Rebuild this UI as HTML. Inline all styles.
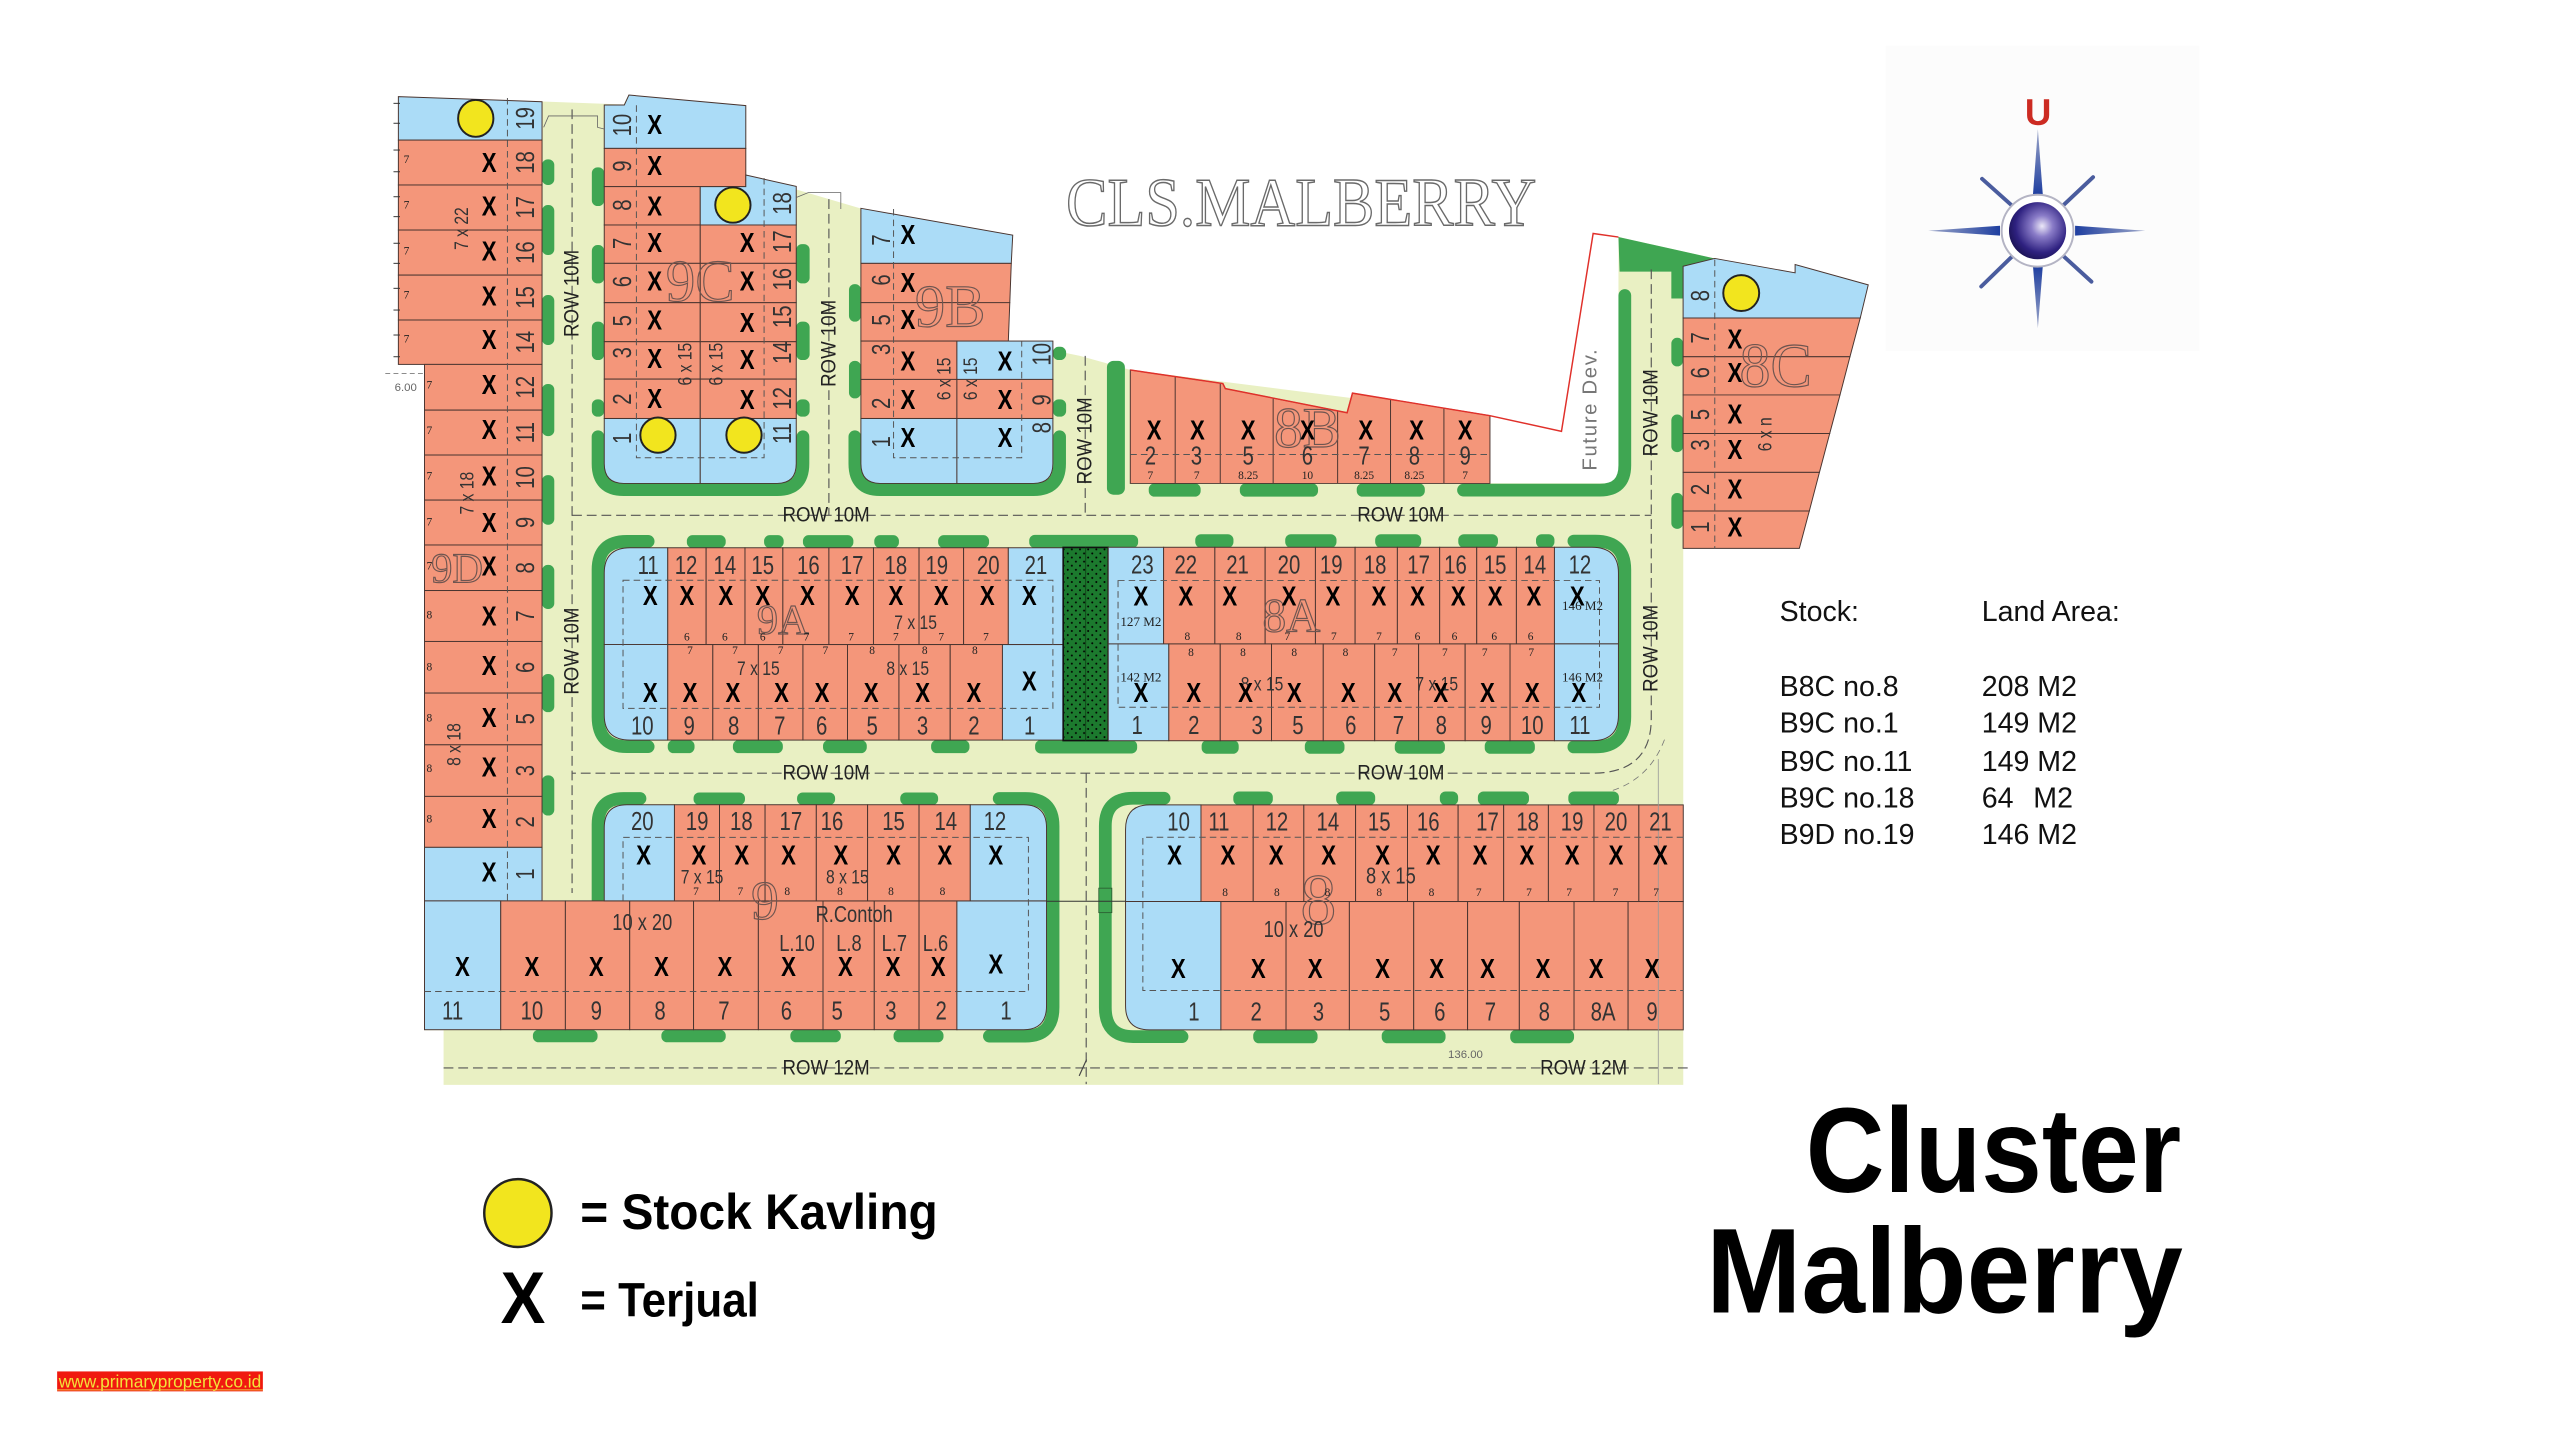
<!DOCTYPE html>
<html><head><meta charset="utf-8"><title>Cluster Malberry</title>
<style>
html,body{margin:0;padding:0;background:#fff;width:2560px;height:1440px;overflow:hidden}
svg{display:block}
.r{fill:#f4967a;stroke:#4a3530;stroke-width:.6}
.b{fill:#abdcf7;stroke:#4a3530;stroke-width:.6}
.g rect{fill:#3fa652}
.gs{fill:none;stroke:#3fa652;stroke-width:7.8;stroke-linecap:round}
.d{fill:none;stroke:#555;stroke-width:.6;stroke-dasharray:4 2.5}
.dl{fill:none;stroke:#555;stroke-width:.7;stroke-dasharray:6 3}
text{font-family:"Liberation Sans",sans-serif}
.n text,.nv text,.x text,.dm text,.dmv text,.rw text,.rwv text,.s text,.lb text{text-anchor:middle;dominant-baseline:central;transform-box:fill-box;transform-origin:center}
.n text{font-size:16px;fill:#333;transform:scaleX(.78)}
.nv text{font-size:16px;fill:#333;transform:rotate(-90deg) scaleX(.78)}
.x text{font-size:17px;font-weight:bold;fill:#000;transform:scaleX(.8)}
.s text{font-family:"Liberation Serif",serif;font-size:7px;fill:#222}
.dm text{font-size:12px;fill:#333;transform:scaleX(.8)}
.dmv text{font-size:12px;fill:#333;transform:rotate(-90deg) scaleX(.8)}
.lb text{font-family:"Liberation Serif",serif;fill:none;stroke:#6e5550;stroke-width:.7}
.rw text{font-size:13px;fill:#222;transform:scaleX(.88)}
.rwv text{font-size:13px;fill:#222;transform:rotate(-90deg) scaleX(.88)}
.tb{font-size:17.5px;fill:#111}
.ttl{font-family:"Liberation Serif",serif}
</style></head>
<body>
<svg width="2560" height="1440" viewBox="0 0 1568 882" xmlns="http://www.w3.org/2000/svg">
<defs>
<pattern id="dots" width="5" height="5" patternUnits="userSpaceOnUse"><rect width="5" height="5" fill="#1c7a2e"/><circle cx="1.5" cy="1.5" r=".6" fill="#000"/><circle cx="4" cy="4" r=".6" fill="#000"/></pattern>
<radialGradient id="sph" cx=".58" cy=".42" r=".62"><stop offset="0" stop-color="#ece8f8"/><stop offset=".3" stop-color="#8a7cc8"/><stop offset=".75" stop-color="#2e2180"/><stop offset="1" stop-color="#1b1355"/></radialGradient>
<linearGradient id="gv" x1="0" y1="0" x2="0" y2="1"><stop offset="0" stop-color="#9ca6c8"/><stop offset="1" stop-color="#1f3fa0"/></linearGradient>
<linearGradient id="gv2" x1="0" y1="1" x2="0" y2="0"><stop offset="0" stop-color="#9ca6c8"/><stop offset="1" stop-color="#1f3fa0"/></linearGradient>
<linearGradient id="gh" x1="0" y1="0" x2="1" y2="0"><stop offset="0" stop-color="#9ca6c8"/><stop offset="1" stop-color="#1f3fa0"/></linearGradient>
<linearGradient id="gh2" x1="1" y1="0" x2="0" y2="0"><stop offset="0" stop-color="#9ca6c8"/><stop offset="1" stop-color="#1f3fa0"/></linearGradient>
</defs>

<!-- road base -->
<polygon fill="#e9f0c3" points="244,59 382,64 385,58 457,65 457,107 527,127.6 620,144 617.6,209 661.5,218 692,226.5 912.6,254.6 912.6,296 991.3,296 991.3,145.2 1050.3,158.3 1050.3,163.1 1031,163.1 1031,664.5 271.7,664.5 271.7,631 260,631 260,223 244,223"/>

<!-- green bumps -->
<g class="g">
<rect x="332" y="97.6" width="7.5" height="15.7" rx="3.5"/><rect x="332" y="125.6" width="7.5" height="30.6" rx="3.5"/><rect x="332" y="180.7" width="7.5" height="30.6" rx="3.5"/><rect x="332" y="235.2" width="7.5" height="31.9" rx="3.5"/><rect x="332" y="291" width="7.5" height="30.4" rx="3.5"/><rect x="332" y="346" width="7.5" height="27" rx="3.5"/><rect x="332" y="412.8" width="7.5" height="23.4" rx="3.5"/><rect x="332" y="474.9" width="7.5" height="24.6" rx="3.5"/>
<rect x="362.5" y="102.5" width="7.6" height="23.7" rx="3.5"/><rect x="362.5" y="150.1" width="7.6" height="23.5" rx="3.5"/><rect x="362.5" y="197" width="7.6" height="23.5" rx="3.5"/><rect x="362.5" y="244.6" width="7.6" height="10.6" rx="3.5"/>
<rect x="487.7" y="149.5" width="8.2" height="24.1" rx="3.5"/><rect x="487.7" y="197" width="8.2" height="23.5" rx="3.5"/><rect x="487.7" y="244.6" width="8.2" height="10.6" rx="3.5"/>
<rect x="520" y="174" width="7.3" height="23" rx="3.5"/><rect x="520" y="221" width="7.3" height="23" rx="3.5"/>
<rect x="644.9" y="212.4" width="8.1" height="8.1" rx="3.5"/><rect x="644.9" y="244.6" width="8.1" height="10.6" rx="3.5"/>
<rect x="678" y="221" width="11" height="82" rx="4"/>
<rect x="703.6" y="296.1" width="31.8" height="8.1" rx="3.5"/><rect x="759.4" y="296.1" width="47.9" height="8.1" rx="3.5"/><rect x="831" y="296.1" width="41.7" height="8.1" rx="3.5"/>
<rect x="1023.7" y="206.9" width="7.2" height="17.5" rx="3.5"/><rect x="1023.7" y="253.9" width="7.2" height="23" rx="3.5"/><rect x="1023.7" y="302" width="7.2" height="21.9" rx="3.5"/>
<rect x="420.7" y="327.8" width="23.8" height="7.9" rx="3.5"/><rect x="468" y="327.8" width="12" height="7.9" rx="3.5"/><rect x="491.8" y="327.8" width="30.9" height="7.9" rx="3.5"/><rect x="535.5" y="327.8" width="15.1" height="7.9" rx="3.5"/><rect x="574.6" y="327.8" width="31.2" height="7.9" rx="3.5"/><rect x="630.4" y="327.6" width="66.7" height="8.1" rx="3.5"/>
<rect x="409" y="453.3" width="16.4" height="8" rx="3.5"/><rect x="448.9" y="453.3" width="30.6" height="8" rx="3.5"/><rect x="504.1" y="453.3" width="26.8" height="8" rx="3.5"/><rect x="570.3" y="453.3" width="23.5" height="8" rx="3.5"/><rect x="634" y="453.3" width="62.5" height="8.2" rx="3.5"/>
<rect x="732.1" y="327.2" width="23.4" height="8.3" rx="3.5"/><rect x="787.2" y="327.2" width="31.4" height="8.3" rx="3.5"/><rect x="842.3" y="327.2" width="28.2" height="8.3" rx="3.5"/><rect x="893.2" y="327.2" width="24.3" height="8.3" rx="3.5"/><rect x="940.8" y="327.2" width="11.3" height="8.3" rx="3.5"/>
<rect x="736" y="453.3" width="22.7" height="8.4" rx="3.5"/><rect x="799.2" y="453.3" width="24.3" height="8.4" rx="3.5"/><rect x="854.3" y="453.3" width="30.7" height="8.4" rx="3.5"/><rect x="909.4" y="453.3" width="30.7" height="8.4" rx="3.5"/>
<rect x="424.8" y="485.4" width="31.5" height="7.7" rx="3.5"/><rect x="488.2" y="485.4" width="23.3" height="7.7" rx="3.5"/><rect x="551.4" y="485.4" width="23.2" height="7.7" rx="3.5"/>
<rect x="326.4" y="630.7" width="39.6" height="7.7" rx="3.5"/><rect x="405.1" y="630.7" width="39.4" height="7.7" rx="3.5"/><rect x="484.1" y="630.7" width="30.9" height="7.7" rx="3.5"/><rect x="547.3" y="630.7" width="30.6" height="7.7" rx="3.5"/>
<rect x="755.4" y="484.8" width="24.2" height="8.4" rx="3.5"/><rect x="818.4" y="484.8" width="23.9" height="8.4" rx="3.5"/><rect x="881.9" y="484.8" width="11.2" height="8.4" rx="3.5"/><rect x="905.2" y="484.8" width="31.3" height="8.4" rx="3.5"/><rect x="960.6" y="484.8" width="31" height="8.4" rx="3.5"/>
<rect x="767.6" y="630.8" width="39.4" height="8.2" rx="3.5"/><rect x="846.3" y="630.8" width="39.1" height="8.2" rx="3.5"/><rect x="925" y="630.8" width="39.1" height="8.2" rx="3.5"/>
<polygon fill="#3fa652" points="991.3,145.2 1050.3,158.3 1050.3,163.1 1030.9,163.1 1030.9,182.8 1023.7,182.8 1023.7,166.4 992,166.4"/>
</g>
<path class="gs" d="M366.3,267.5 V284 Q366.3,299.9 382,299.9 H476 Q491.8,299.9 491.8,284 V267.5"/>
<path class="gs" d="M523.6,267.5 V284 Q523.6,299.9 539,299.9 H633 Q649,299.9 649,284 V267.5"/>
<path class="gs" d="M397,331.6 H384 Q366.3,331.6 366.3,349 V439 Q366.3,457.3 384,457.3 H397"/>
<path class="gs" d="M964,331.4 H977 Q995.2,331.4 995.2,349 V439 Q995.2,457.5 977,457.5 H964"/>
<path class="gs" d="M366.3,551 V505 Q366.3,489.1 382,489.1 H392"/>
<path class="gs" d="M612,489.1 H628 Q645,489.1 645,506 V617 Q645,634.6 628,634.6 H606"/>
<path class="gs" d="M713,488.9 H694 Q677,488.9 677,506 V617 Q677,634.9 694,634.9 H724"/>
<path class="gs" d="M896.4,300.2 H980 Q995.2,300.2 995.2,285 V181"/>
<rect x="673" y="544" width="8" height="15" fill="#3fa652" stroke="#2a5a30" stroke-width=".5"/>

<!-- 9D -->
<polygon class="b" points="244,59.2 332,62.3 332,85.8 244,85.8"/>
<rect class="r" x="244" y="85.8" width="88" height="27.5"/><rect class="r" x="244" y="113.3" width="88" height="27.6"/><rect class="r" x="244" y="140.9" width="88" height="27.6"/><rect class="r" x="244" y="168.5" width="88" height="27.5"/><rect class="r" x="244" y="196" width="88" height="27.2"/>
<rect class="r" x="260" y="223.2" width="72" height="28"/><rect class="r" x="260" y="251.2" width="72" height="27.5"/><rect class="r" x="260" y="278.7" width="72" height="27.6"/><rect class="r" x="260" y="306.3" width="72" height="27.5"/><rect class="r" x="260" y="333.8" width="72" height="27.9"/><rect class="r" x="260" y="361.7" width="72" height="31.2"/><rect class="r" x="260" y="392.9" width="72" height="31.6"/><rect class="r" x="260" y="424.5" width="72" height="31.7"/><rect class="r" x="260" y="456.2" width="72" height="31.6"/><rect class="r" x="260" y="487.8" width="72" height="31.2"/>
<rect class="b" x="260" y="519" width="72" height="32.8"/>
<line class="d" x1="310.8" y1="60" x2="310.8" y2="551.8"/>

<!-- 9 lower row -->
<rect class="b" x="260" y="551.8" width="46.7" height="78.9"/><rect class="r" x="306.7" y="551.8" width="39.6" height="78.9"/><rect class="r" x="346.3" y="551.8" width="39.4" height="78.9"/><rect class="r" x="385.7" y="551.8" width="39.1" height="78.9"/><rect class="r" x="424.8" y="551.8" width="39.7" height="78.9"/><rect class="r" x="464.5" y="551.8" width="39.6" height="78.9"/><rect class="r" x="504.1" y="551.8" width="31.4" height="78.9"/><rect class="r" x="535.5" y="551.8" width="27.4" height="78.9"/><rect class="r" x="562.9" y="551.8" width="23.2" height="78.9"/>
<path class="b" d="M586.1,551.8 H641 V616 Q641,630.7 627,630.7 H586.1 Z"/>
<!-- 9 upper row -->
<path class="b" d="M384,492.9 H413.1 V551.8 H370.1 V507 Q370.1,492.9 384,492.9 Z"/>
<rect class="r" x="413.1" y="492.9" width="27.6" height="58.9"/><rect class="r" x="440.7" y="492.9" width="27.9" height="58.9"/><rect class="r" x="468.6" y="492.9" width="31.4" height="58.9"/><rect class="r" x="500" y="492.9" width="31.4" height="58.9"/><rect class="r" x="531.4" y="492.9" width="31.5" height="58.9"/><rect class="r" x="562.9" y="492.9" width="31.4" height="58.9"/>
<path class="b" d="M594.3,492.9 H627 Q641,492.9 641,507 V551.8 H594.3 Z"/>

<!-- 9C -->
<polygon class="b" points="370.1,64.3 382.4,64.3 385.2,58.2 456.8,64.7 456.8,90.9 370.1,90.9"/>
<rect class="r" x="370.1" y="90.9" width="86.7" height="23.4"/>
<rect class="r" x="370.1" y="114.3" width="58.8" height="23.5"/>
<polygon class="b" points="428.9,114.3 456.8,114.3 456.8,107.2 487.7,114.2 487.7,137.8 428.9,137.8"/>
<rect class="r" x="370.1" y="137.8" width="58.8" height="23.5"/><rect class="r" x="370.1" y="161.3" width="58.8" height="24.1"/><rect class="r" x="370.1" y="185.4" width="58.8" height="23.9"/><rect class="r" x="370.1" y="209.3" width="58.8" height="22.9"/><rect class="r" x="370.1" y="232.2" width="58.8" height="24.1"/>
<rect class="r" x="428.9" y="137.8" width="58.8" height="23.5"/><rect class="r" x="428.9" y="161.3" width="58.8" height="24.1"/><rect class="r" x="428.9" y="185.4" width="58.8" height="23.9"/><rect class="r" x="428.9" y="209.3" width="58.8" height="22.9"/><rect class="r" x="428.9" y="232.2" width="58.8" height="24.1"/>
<path class="b" d="M370.1,256.3 H428.9 V296.1 H382 Q370.1,296.1 370.1,284 Z"/>
<path class="b" d="M428.9,256.3 H487.7 V284 Q487.7,296.1 476,296.1 H428.9 Z"/>
<path class="d" d="M389.8,64.5 V280.4 H468 V107.5"/>

<!-- 9B -->
<polygon class="b" points="527.3,127.6 620.3,144 619.4,161.3 527.3,161.3"/>
<polygon class="r" points="527.3,161.3 619.4,161.3 618.5,185.4 527.3,185.4"/>
<polygon class="r" points="527.3,185.4 618.5,185.4 617.6,208.9 527.3,208.9"/>
<rect class="r" x="527.3" y="208.9" width="58.8" height="23.5"/><rect class="r" x="527.3" y="232.4" width="58.8" height="23.9"/>
<rect class="b" x="586.1" y="208.9" width="58.8" height="23.5"/><rect class="r" x="586.1" y="232.4" width="58.8" height="23.9"/>
<path class="b" d="M527.3,256.3 H586.1 V296.1 H539 Q527.3,296.1 527.3,284 Z"/>
<path class="b" d="M586.1,256.3 H644.9 V284 Q644.9,296.1 633,296.1 H586.1 Z"/>
<path class="d" d="M547.3,128 V280.4 H625.8 V209"/>

<!-- 9A -->
<path class="b" d="M386,335.5 H409 V394.8 H370.1 V351 Q370.1,335.5 386,335.5 Z"/>
<rect class="r" x="409" y="335.5" width="23.5" height="59.3"/><rect class="r" x="432.5" y="335.5" width="23.8" height="59.3"/><rect class="r" x="456.3" y="335.5" width="23.2" height="59.3"/><rect class="r" x="479.5" y="335.5" width="28.2" height="59.3"/><rect class="r" x="507.7" y="335.5" width="27.3" height="59.3"/><rect class="r" x="535" y="335.5" width="27.9" height="59.3"/><rect class="r" x="562.9" y="335.5" width="27.3" height="59.3"/><rect class="r" x="590.2" y="335.5" width="27.4" height="59.3"/>
<rect class="b" x="617.6" y="335.5" width="33.6" height="59.3"/>
<path class="b" d="M370.1,394.8 H409 V453.3 H386 Q370.1,453.3 370.1,438 Z"/>
<rect class="r" x="409" y="394.8" width="27.6" height="58.5"/><rect class="r" x="436.6" y="394.8" width="27.9" height="58.5"/><rect class="r" x="464.5" y="394.8" width="27.3" height="58.5"/><rect class="r" x="491.8" y="394.8" width="27.3" height="58.5"/><rect class="r" x="519.1" y="394.8" width="31.5" height="58.5"/><rect class="r" x="550.6" y="394.8" width="31.4" height="58.5"/><rect class="r" x="582" y="394.8" width="32" height="58.5"/>
<rect class="b" x="614" y="394.8" width="37.2" height="58.5"/>
<rect class="d" x="381.6" y="355.4" width="263.3" height="78.5"/>

<!-- park -->
<rect x="651.2" y="335.3" width="27.6" height="118.3" fill="url(#dots)" stroke="#111" stroke-width="1"/>
<line x1="665" y1="335.3" x2="665" y2="453.6" stroke="#0d3d15" stroke-width=".5"/>

<!-- 8A -->
<rect class="b" x="678.8" y="335.2" width="33.9" height="59.2"/>
<rect class="r" x="712.7" y="335.2" width="31.4" height="59.2"/><rect class="r" x="744.1" y="335.2" width="30.8" height="59.2"/><rect class="r" x="774.9" y="335.2" width="30.8" height="59.2"/><rect class="r" x="805.7" y="335.2" width="24.3" height="59.2"/><rect class="r" x="830" y="335.2" width="25.9" height="59.2"/><rect class="r" x="855.9" y="335.2" width="25.9" height="59.2"/><rect class="r" x="881.8" y="335.2" width="22.7" height="59.2"/><rect class="r" x="904.5" y="335.2" width="24.3" height="59.2"/><rect class="r" x="928.8" y="335.2" width="23.3" height="59.2"/>
<path class="b" d="M952.1,335.2 H975 Q991.3,335.2 991.3,351 V394.4 H952.1 Z"/>
<rect class="b" x="678.8" y="394.4" width="37.1" height="59.3"/>
<rect class="r" x="715.9" y="394.4" width="31.5" height="59.3"/><rect class="r" x="747.4" y="394.4" width="31.4" height="59.3"/><rect class="r" x="778.8" y="394.4" width="31.7" height="59.3"/><rect class="r" x="810.5" y="394.4" width="31.5" height="59.3"/><rect class="r" x="842" y="394.4" width="26.9" height="59.3"/><rect class="r" x="868.9" y="394.4" width="28.5" height="59.3"/><rect class="r" x="897.4" y="394.4" width="27.5" height="59.3"/><rect class="r" x="924.9" y="394.4" width="27.2" height="59.3"/>
<path class="b" d="M952.1,394.4 H991.3 V438 Q991.3,453.7 975,453.7 H952.1 Z"/>
<rect class="d" x="684.8" y="355.6" width="294.9" height="77.6"/>

<!-- 8 (lower right) -->
<path class="b" d="M704,493 H735.6 V552.2 H689.4 V508 Q689.4,493 704,493 Z"/>
<rect class="r" x="735.6" y="493" width="32" height="59.2"/><rect class="r" x="767.6" y="493" width="31" height="59.2"/><rect class="r" x="798.6" y="493" width="31.7" height="59.2"/><rect class="r" x="830.3" y="493" width="31.8" height="59.2"/><rect class="r" x="862.1" y="493" width="31" height="59.2"/><rect class="r" x="893.1" y="493" width="27.9" height="59.2"/><rect class="r" x="921" y="493" width="27.4" height="59.2"/><rect class="r" x="948.4" y="493" width="27.9" height="59.2"/><rect class="r" x="976.3" y="493" width="27.5" height="59.2"/><rect class="r" x="1003.8" y="493" width="27.2" height="59.2"/>
<path class="b" d="M689.4,552.2 H747.8 V630.8 H704 Q689.4,630.8 689.4,616 Z"/>
<rect class="r" x="747.8" y="552.2" width="39.9" height="78.6"/><rect class="r" x="787.7" y="552.2" width="38.8" height="78.6"/><rect class="r" x="826.5" y="552.2" width="39.4" height="78.6"/><rect class="r" x="865.9" y="552.2" width="33" height="78.6"/><rect class="r" x="898.9" y="552.2" width="31.7" height="78.6"/><rect class="r" x="930.6" y="552.2" width="33.5" height="78.6"/><rect class="r" x="964.1" y="552.2" width="33.1" height="78.6"/><rect class="r" x="997.2" y="552.2" width="33.8" height="78.6"/>
<path class="d" d="M1031,512.8 H700 V606.7 H1031"/>
<path class="d" d="M260,607.3 H629.9 V512.9 H381.6 V551.8"/>
<line x1="641" y1="552" x2="689.4" y2="552" stroke="#333" stroke-width=".6"/>

<!-- 8B -->
<polygon class="r" points="692.3,226.6 749,234.9 750.5,238 825.1,252.8 828.4,240.8 912.6,254.6 912.6,296.1 692.3,296.1"/>
<g stroke="#4a3530" stroke-width=".6"><line x1="719.8" y1="230.6" x2="719.8" y2="296.1"/><line x1="747.4" y1="234.7" x2="747.4" y2="296.1"/><line x1="779.8" y1="244" x2="779.8" y2="296.1"/><line x1="819.3" y1="251.5" x2="819.3" y2="296.1"/><line x1="851.7" y1="244.6" x2="851.7" y2="296.1"/><line x1="884.4" y1="250" x2="884.4" y2="296.1"/></g>
<polyline fill="none" stroke="#e0302a" stroke-width=".9" points="692.3,226.6 749,234.9 750.5,238 825.1,252.8 828.4,240.8 912.6,254.6 956.4,264.2 975.8,143 991.3,145.2"/>
<line class="d" x1="692.3" y1="278.4" x2="912.6" y2="278.4"/>

<!-- 8C -->
<polygon class="b" points="1030.9,163.1 1050.3,158.3 1099.5,167.1 1099.5,162 1144.3,174.5 1139.4,194.8 1030.9,194.8"/>
<polygon class="r" points="1030.9,194.8 1139.4,194.8 1133.1,218.5 1030.9,218.5"/>
<polygon class="r" points="1030.9,218.5 1133.1,218.5 1127,241.9 1030.9,241.9"/>
<polygon class="r" points="1030.9,241.9 1127,241.9 1120.7,265.5 1030.9,265.5"/>
<polygon class="r" points="1030.9,265.5 1120.7,265.5 1114.4,289.3 1030.9,289.3"/>
<polygon class="r" points="1030.9,289.3 1114.4,289.3 1108.2,313 1030.9,313"/>
<polygon class="r" points="1030.9,313 1108.2,313 1102.1,335.9 1030.9,335.9"/>
<line class="d" x1="1050.3" y1="159" x2="1050.3" y2="335.9"/>

<!-- road dashed lines -->
<g class="dl">
<path d="M350.4,67 V547"/>
<path d="M507.7,122 V315.6"/>
<path d="M664.7,218 V315.6"/>
<path d="M350.4,315.6 H1011.4"/>
<path d="M1011.4,165 V440 Q1011.4,473.6 975,473.6 H350.4"/>
<path d="M665.3,473.6 V664"/>
<path d="M271.7,654.1 H1036"/>
</g>
<path d="M1019.5,453 Q1010,478 985,485" fill="none" stroke="#777" stroke-width=".5" stroke-dasharray="4 3"/>
<line x1="1015.7" y1="465" x2="1015.7" y2="664" stroke="#999" stroke-width=".5"/>
<line x1="661" y1="659" x2="665.5" y2="649" stroke="#444" stroke-width=".7"/>
<polyline points="333,78 336,71 366,71 366,78 370,79" fill="none" stroke="#666" stroke-width=".5"/>
<polyline points="487.7,121 495,118 515,118 515,128" fill="none" stroke="#666" stroke-width=".5"/>
<g stroke="#333" stroke-width=".6"><line x1="241" y1="63.3" x2="245" y2="63.3"/><line x1="241" y1="75.5" x2="245" y2="75.5"/><line x1="241" y1="91.9" x2="245" y2="91.9"/><line x1="241" y1="105.2" x2="245" y2="105.2"/><line x1="241" y1="120.5" x2="245" y2="120.5"/><line x1="241" y1="132.7" x2="245" y2="132.7"/><line x1="241" y1="149" x2="245" y2="149"/><line x1="241" y1="161.3" x2="245" y2="161.3"/><line x1="241" y1="176.6" x2="245" y2="176.6"/><line x1="241" y1="189.9" x2="245" y2="189.9"/><line x1="241" y1="205.2" x2="245" y2="205.2"/><line x1="241" y1="218.5" x2="245" y2="218.5"/></g>
<line x1="236" y1="228.7" x2="260" y2="228.7" stroke="#666" stroke-width=".5" stroke-dasharray="3 2"/>
<text x="248.5" y="239.5" font-size="7" fill="#666" text-anchor="middle">6.00</text>

<!-- ROW labels -->
<g class="rw"><text x="506" y="315.6">ROW 10M</text><text x="858" y="315.6">ROW 10M</text><text x="506" y="473.6">ROW 10M</text><text x="858" y="473.6">ROW 10M</text><text x="506" y="654.1">ROW 12M</text><text x="970" y="654.1">ROW 12M</text></g>
<g class="rwv"><text x="350.4" y="179.7">ROW 10M</text><text x="350.4" y="398.8">ROW 10M</text><text x="507.7" y="210.3">ROW 10M</text><text x="664.7" y="270">ROW 10M</text><text x="1011.4" y="252.8">ROW 10M</text><text x="1011.4" y="397.1">ROW 10M</text></g>
<text x="974.2" y="250.6" font-size="12.5" fill="#777" text-anchor="middle" dominant-baseline="central" letter-spacing="1" transform="rotate(-90 974.2 250.6)">Future Dev.</text>
<text x="897.6" y="646.1" font-size="7" fill="#666" text-anchor="middle" dominant-baseline="central">136.00</text>

<!-- block labels -->
<g class="lb">
<text x="280" y="348.4" font-size="26">9D</text>
<text x="428.9" y="172.5" font-size="36">9C</text>
<text x="582" y="187.9" font-size="37">9B</text>
<text x="479.5" y="380" font-size="26">9A</text>
<text x="791" y="377.5" font-size="29">8A</text>
<text x="800.8" y="262.6" font-size="35">8B</text>
<text x="1087.6" y="224.4" font-size="38">8C</text>
<text x="468.6" y="552.2" font-size="34">9</text>
<text x="807.5" y="551.2" font-size="44">8</text>
</g>

<!-- lot numbers vertical -->
<g class="nv">
<text x="321.5" y="72.5">19</text><text x="321.5" y="99.5">18</text><text x="321.5" y="127">17</text><text x="321.5" y="154.7">16</text><text x="321.5" y="182.2">15</text><text x="321.5" y="209.6">14</text><text x="321.5" y="237.2">12</text><text x="321.5" y="265">11</text><text x="321.5" y="292.5">10</text><text x="321.5" y="320">9</text><text x="321.5" y="347.8">8</text><text x="321.5" y="377.3">7</text><text x="321.5" y="408.7">6</text><text x="321.5" y="440.3">5</text><text x="321.5" y="472">3</text><text x="321.5" y="503.4">2</text><text x="321.5" y="535.4">1</text>
<text x="381.1" y="76.6">10</text><text x="381.1" y="101.7">9</text><text x="381.1" y="125.6">8</text><text x="381.1" y="149">7</text><text x="381.1" y="172.5">6</text><text x="381.1" y="196.4">5</text><text x="381.1" y="216">3</text><text x="381.1" y="244.4">2</text><text x="381.1" y="268.5">1</text>
<text x="479" y="124.6">18</text><text x="479" y="148">17</text><text x="479" y="171">16</text><text x="479" y="194">15</text><text x="479" y="216">14</text><text x="479" y="244">12</text><text x="479" y="265.5">11</text>
<text x="539.6" y="147">7</text><text x="539.6" y="171.5">6</text><text x="539.6" y="196">5</text><text x="539.6" y="214">3</text><text x="539.6" y="247">2</text><text x="539.6" y="270.6">1</text>
<text x="638.1" y="217">10</text><text x="638.1" y="245">9</text><text x="638.1" y="262">8</text>
<text x="1041.2" y="181.1">8</text><text x="1041.2" y="206.9">7</text><text x="1041.2" y="228.3">6</text><text x="1041.2" y="253.9">5</text><text x="1041.2" y="272.5">3</text><text x="1041.2" y="299.8">2</text><text x="1041.2" y="322.8">1</text>
</g>

<!-- lot numbers horizontal -->
<g class="n">
<text x="397" y="346">11</text><text x="420.2" y="346">12</text><text x="444" y="346">14</text><text x="467.2" y="346">15</text><text x="495.1" y="346">16</text><text x="521.9" y="346">17</text><text x="548.7" y="346">18</text><text x="573.8" y="346">19</text><text x="605.3" y="346">20</text><text x="634.5" y="346">21</text>
<text x="393.4" y="444.4">10</text><text x="422.1" y="444.4">9</text><text x="449.4" y="444.4">8</text><text x="477.6" y="444.4">7</text><text x="503.3" y="444.4">6</text><text x="534.2" y="444.4">5</text><text x="565.1" y="444.4">3</text><text x="596.5" y="444.4">2</text><text x="630.7" y="444.4">1</text>
<text x="699.7" y="345.7">23</text><text x="726.3" y="345.7">22</text><text x="758" y="345.7">21</text><text x="789.5" y="345.7">20</text><text x="815.4" y="345.7">19</text><text x="842.3" y="345.7">18</text><text x="868.9" y="345.7">17</text><text x="891.5" y="345.7">16</text><text x="915.8" y="345.7">15</text><text x="940.1" y="345.7">14</text><text x="967.7" y="345.7">12</text>
<text x="696.5" y="444.2">1</text><text x="731.2" y="444.2">2</text><text x="770" y="444.2">3</text><text x="795" y="444.2">5</text><text x="827.4" y="444.2">6</text><text x="856.5" y="444.2">7</text><text x="882.8" y="444.2">8</text><text x="910.3" y="444.2">9</text><text x="938.5" y="444.2">10</text><text x="967.7" y="444.2">11</text>
<text x="393.4" y="503">20</text><text x="427" y="503">19</text><text x="454.1" y="503">18</text><text x="484.4" y="503">17</text><text x="509.6" y="503">16</text><text x="547.3" y="503">15</text><text x="579.3" y="503">14</text><text x="609.4" y="503">12</text>
<text x="277.2" y="619">11</text><text x="325.8" y="619">10</text><text x="365.2" y="619">9</text><text x="404.3" y="619">8</text><text x="443.4" y="619">7</text><text x="481.7" y="619">6</text><text x="512.8" y="619">5</text><text x="545.7" y="619">3</text><text x="576.5" y="619">2</text><text x="616.2" y="619">1</text>
<text x="721.9" y="503.2">10</text><text x="746.6" y="503.2">11</text><text x="782.1" y="503.2">12</text><text x="813.3" y="503.2">14</text><text x="844.8" y="503.2">15</text><text x="874.8" y="503.2">16</text><text x="911.1" y="503.2">17</text><text x="935.7" y="503.2">18</text><text x="962.9" y="503.2">19</text><text x="989.8" y="503.2">20</text><text x="1017" y="503.2">21</text>
<text x="731.3" y="619.5">1</text><text x="769.4" y="619.5">2</text><text x="807.5" y="619.5">3</text><text x="848.1" y="619.5">5</text><text x="881.9" y="619.5">6</text><text x="912.9" y="619.5">7</text><text x="945.9" y="619.5">8</text><text x="981.9" y="619.5">8A</text><text x="1011.9" y="619.5">9</text>
<text x="704.6" y="279" fill="#555">2</text><text x="732.8" y="279">3</text><text x="764.5" y="279">5</text><text x="800.8" y="279">6</text><text x="835.5" y="279">7</text><text x="866.3" y="279">8</text><text x="897.4" y="279">9</text>
</g>

<!-- dimension texts -->
<g class="dmv">
<text x="282.6" y="140">7 x 22</text><text x="286" y="302">7 x 18</text><text x="278" y="456">8 x 18</text>
<text x="419.3" y="223">6 x 15</text><text x="438.5" y="223">6 x 15</text>
<text x="578" y="232">6 x 15</text><text x="594.3" y="232">6 x 15</text>
<text x="1081.1" y="266">6 x n</text>
</g>
<g class="dm">
<text x="560.8" y="381.2">7 x 15</text><text x="464.5" y="409.3">7 x 15</text><text x="556" y="409.3">8 x 15</text>
<text x="773" y="419">8 x 15</text><text x="880" y="419">7 x 15</text>
<text x="430" y="537">7 x 15</text><text x="519" y="537">8 x 15</text>
<text x="393.4" y="565.1" style="font-size:14px">10 x 20</text>
<text x="523.2" y="560.4" style="font-size:14px">R.Contoh</text>
<text x="488.2" y="578" style="font-size:14px">L.10</text><text x="520" y="578" style="font-size:14px">L.8</text><text x="547.8" y="578" style="font-size:14px">L.7</text><text x="573" y="578" style="font-size:14px">L.6</text>
<text x="851.9" y="536.9" style="font-size:14px">8 x 15</text>
<text x="792.3" y="569.5" style="font-size:14px">10 x 20</text>
</g>
<g class="s">
<text x="249" y="98">7</text><text x="249" y="126">7</text><text x="249" y="154">7</text><text x="249" y="181">7</text><text x="249" y="208">7</text>
<text x="263" y="236">7</text><text x="263" y="264">7</text><text x="263" y="292">7</text><text x="263" y="320">7</text><text x="263" y="347">7</text><text x="263" y="377">8</text><text x="263" y="409">8</text><text x="263" y="440">8</text><text x="263" y="471">8</text><text x="263" y="502">8</text>
<text x="420.7" y="390.5">6</text><text x="444" y="390.5">6</text><text x="467.2" y="390.5">6</text><text x="494" y="390.5">7</text><text x="521.3" y="390.5">7</text><text x="548.7" y="390.5">7</text><text x="576.5" y="390.5">7</text><text x="603.9" y="390.5">7</text>
<text x="422.6" y="398.8">7</text><text x="450.2" y="398.8">7</text><text x="478.1" y="398.8">7</text><text x="505.5" y="398.8">7</text><text x="534.2" y="398.8">8</text><text x="566.4" y="398.8">8</text><text x="597.1" y="398.8">8</text>
<text x="727.3" y="390.2">8</text><text x="758.7" y="390.2">8</text><text x="788.5" y="390.2">7</text><text x="817" y="390.2">7</text><text x="844.6" y="390.2">7</text><text x="868.2" y="390.2">6</text><text x="890.9" y="390.2">6</text><text x="915.2" y="390.2">6</text><text x="937.5" y="390.2">6</text>
<text x="729.5" y="400">8</text><text x="761.3" y="400">8</text><text x="792.7" y="400">8</text><text x="824.1" y="400">8</text><text x="854.3" y="400">7</text><text x="885" y="400">7</text><text x="909.4" y="400">7</text><text x="937.9" y="400">7</text>
<text x="698.8" y="380.7" style="font-size:8px">127 M2</text><text x="698.8" y="414.6" style="font-size:8px">142 M2</text><text x="969.3" y="370.9" style="font-size:8px">146 M2</text><text x="969.3" y="414.6" style="font-size:8px">146 M2</text>
<text x="704.6" y="291.7">7</text><text x="733" y="291.7">7</text><text x="764.5" y="291.7">8.25</text><text x="800.8" y="291.7">10</text><text x="835.5" y="291.7">8.25</text><text x="866.3" y="291.7">8.25</text><text x="897.4" y="291.7">7</text>
<text x="426.3" y="546.4">7</text><text x="453.5" y="546.4">7</text><text x="482.2" y="546.4">8</text><text x="514.5" y="546.4">8</text><text x="545.7" y="546.4">8</text><text x="577.3" y="546.4">8</text>
<text x="750.4" y="547.1">8</text><text x="782.1" y="547.1">8</text><text x="813.1" y="547.1">8</text><text x="844.8" y="547.1">8</text><text x="876.8" y="547.1">8</text><text x="905.7" y="547.1">7</text><text x="936.5" y="547.1">7</text><text x="961.1" y="547.1">7</text><text x="989.5" y="547.1">7</text><text x="1014.4" y="547.1">7</text>
</g>

<!-- X marks -->
<g class="x">
<text x="299.6" y="100">X</text><text x="299.6" y="126.6">X</text><text x="299.6" y="154.2">X</text><text x="299.6" y="181.7">X</text><text x="299.6" y="208.3">X</text><text x="299.6" y="235.9">X</text><text x="299.6" y="263.4">X</text><text x="299.6" y="292">X</text><text x="299.6" y="320.3">X</text><text x="299.6" y="347.2">X</text><text x="299.6" y="377.7">X</text><text x="299.6" y="408.1">X</text><text x="299.6" y="439.8">X</text><text x="299.6" y="470.2">X</text><text x="299.6" y="501.8">X</text><text x="299.6" y="534.6">X</text>
<text x="401" y="76.6">X</text><text x="401" y="101.7">X</text><text x="401" y="126.6">X</text><text x="401" y="149.1">X</text><text x="401" y="172.5">X</text><text x="401" y="196.4">X</text><text x="401" y="220.1">X</text><text x="401" y="244.4">X</text>
<text x="457.6" y="149.1">X</text><text x="457.6" y="172.5">X</text><text x="457.6" y="198">X</text><text x="457.6" y="220.5">X</text><text x="457.6" y="245">X</text>
<text x="556.1" y="144">X</text><text x="556.1" y="173.6">X</text><text x="556.1" y="196">X</text><text x="556.1" y="221.5">X</text><text x="556.1" y="245">X</text><text x="556.1" y="268.5">X</text>
<text x="615.6" y="221.5">X</text><text x="615.6" y="245">X</text><text x="615.6" y="268.5">X</text>
<text x="706.9" y="263.7">X</text><text x="733.4" y="263.7">X</text><text x="764.5" y="263.7">X</text><text x="800.8" y="263.7">X</text><text x="836.5" y="263.7">X</text><text x="867.6" y="263.7">X</text><text x="897.4" y="263.7">X</text>
<text x="1062.6" y="208">X</text><text x="1062.6" y="228.7">X</text><text x="1062.6" y="253.9">X</text><text x="1062.6" y="275.8">X</text><text x="1062.6" y="299.8">X</text><text x="1062.6" y="323.2">X</text>
<text x="398.3" y="365.2">X</text><text x="420.7" y="365.2">X</text><text x="444.5" y="365.2">X</text><text x="467.2" y="365.2">X</text><text x="494.5" y="365.2">X</text><text x="521.9" y="365.2">X</text><text x="548.7" y="365.2">X</text><text x="576.5" y="365.2">X</text><text x="604.7" y="365.2">X</text><text x="630.4" y="365.2">X</text>
<text x="398.3" y="424.5">X</text><text x="422.6" y="424.5">X</text><text x="448.9" y="424.5">X</text><text x="478.7" y="424.5">X</text><text x="503.5" y="424.5">X</text><text x="533.6" y="424.5">X</text><text x="565.1" y="424.5">X</text><text x="596.5" y="424.5">X</text><text x="630.4" y="417.5">X</text>
<text x="698.8" y="365.4">X</text><text x="726.3" y="365.4">X</text><text x="753.2" y="365.4">X</text><text x="789.5" y="365.4">X</text><text x="816.4" y="365.4">X</text><text x="844.6" y="365.4">X</text><text x="868.2" y="365.4">X</text><text x="893.2" y="365.4">X</text><text x="915.8" y="365.4">X</text><text x="939.5" y="365.4">X</text><text x="966.1" y="365.4">X</text>
<text x="698.8" y="424.5">X</text><text x="731.2" y="424.5">X</text><text x="762.9" y="424.5">X</text><text x="792.7" y="424.5">X</text><text x="825.8" y="424.5">X</text><text x="854.3" y="424.5">X</text><text x="882.5" y="424.5">X</text><text x="911" y="424.5">X</text><text x="938.5" y="424.5">X</text><text x="967" y="424.5">X</text>
<text x="394.2" y="524.1">X</text><text x="428.1" y="524.1">X</text><text x="454.3" y="524.1">X</text><text x="483" y="524.1">X</text><text x="515" y="524.1">X</text><text x="547.3" y="524.1">X</text><text x="578.7" y="524.1">X</text><text x="609.9" y="524.1">X</text>
<text x="283.2" y="592.5">X</text><text x="325.8" y="592.5">X</text><text x="365.2" y="592.5">X</text><text x="405.1" y="592.5">X</text><text x="444" y="592.5">X</text><text x="483" y="592.5">X</text><text x="517.8" y="592.5">X</text><text x="547" y="592.5">X</text><text x="574.6" y="592.5">X</text><text x="609.9" y="590.8">X</text>
<text x="719.4" y="524.2">X</text><text x="752.1" y="524.2">X</text><text x="781.6" y="524.2">X</text><text x="813.8" y="524.2">X</text><text x="846.8" y="524.2">X</text><text x="877.8" y="524.2">X</text><text x="906.5" y="524.2">X</text><text x="935.2" y="524.2">X</text><text x="962.9" y="524.2">X</text><text x="989.8" y="524.2">X</text><text x="1017" y="524.2">X</text>
<text x="721.7" y="593.6">X</text><text x="770.7" y="593.6">X</text><text x="805.5" y="593.6">X</text><text x="846.8" y="593.6">X</text><text x="879.9" y="593.6">X</text><text x="911.1" y="593.6">X</text><text x="945.1" y="593.6">X</text><text x="977.6" y="593.6">X</text><text x="1011.9" y="593.6">X</text>
</g>

<!-- stock circles -->
<g fill="#f2e51e" stroke="#222" stroke-width="1.2">
<ellipse cx="291.4" cy="72.5" rx="10.8" ry="11.3"/>
<ellipse cx="448.9" cy="125.6" rx="10.8" ry="10.8"/>
<ellipse cx="403" cy="266.5" rx="10.8" ry="10.8"/>
<ellipse cx="455.7" cy="266.5" rx="10.8" ry="10.8"/>
<ellipse cx="1066.5" cy="179.5" rx="11" ry="11"/>
</g>

<!-- title -->
<text class="ttl" x="653" y="138" style="font-family:'Liberation Serif',serif;font-size:42px" fill="#fff" stroke="#6a6a6a" stroke-width=".9" textLength="288" lengthAdjust="spacingAndGlyphs">CLS.MALBERRY</text>

<!-- compass -->
<rect x="1155" y="28" width="192" height="187" fill="#fcfcfc"/>
<text x="1248.4" y="76.6" font-size="22.5" font-weight="bold" fill="#cc2b22" text-anchor="middle">U</text>
<polygon points="1248.2,79 1251.2,119 1245.2,119" fill="url(#gv)"/>
<polygon points="1248.2,201 1251.2,163 1245.2,163" fill="url(#gv2)"/>
<polygon points="1181,141.3 1225,138.3 1225,144.3" fill="url(#gh)"/>
<polygon points="1314,141.3 1271,138.3 1271,144.3" fill="url(#gh2)"/>
<g stroke="#4a5c9e" stroke-width="2.4" stroke-linecap="round">
<line x1="1214" y1="109.5" x2="1233" y2="126.5"/><line x1="1282" y1="108.5" x2="1263.5" y2="126"/>
<line x1="1213.5" y1="175.5" x2="1232.5" y2="157"/><line x1="1281" y1="172.5" x2="1264" y2="157"/>
</g>
<circle cx="1248" cy="141.3" r="22" fill="#fff" stroke="#b4b4c4" stroke-width="1.2"/>
<circle cx="1248" cy="141.3" r="17.5" fill="url(#sph)"/>

<!-- stock table -->
<g class="tb">
<text x="1090" y="380.3">Stock:</text><text x="1213.8" y="380.3">Land Area:</text>
<text x="1090" y="426.2">B8C no.8</text><text x="1213.8" y="426.2">208 M2</text>
<text x="1090" y="448.7">B9C no.1</text><text x="1213.8" y="448.7">149 M2</text>
<text x="1090" y="472.2">B9C no.11</text><text x="1213.8" y="472.2">149 M2</text>
<text x="1090" y="494.7">B9C no.18</text><text x="1213.8" y="494.7">64</text><text x="1245.4" y="494.7">M2</text>
<text x="1090" y="517.1">B9D no.19</text><text x="1213.8" y="517.1">146 M2</text>
</g>

<!-- Cluster Malberry -->
<text x="1106" y="730" font-size="74" font-weight="bold" fill="#000" textLength="230" lengthAdjust="spacingAndGlyphs">Cluster</text>
<text x="1045" y="804" font-size="74" font-weight="bold" fill="#000" textLength="292" lengthAdjust="spacingAndGlyphs">Malberry</text>

<!-- legend -->
<ellipse cx="317.2" cy="743" rx="20.6" ry="20.8" fill="#f2e51e" stroke="#222" stroke-width="1.5"/>
<text x="355.4" y="752.9" font-size="30.5" font-weight="bold" fill="#000" textLength="219" lengthAdjust="spacingAndGlyphs">= Stock Kavling</text>
<text x="306.6" y="810.4" font-size="45" font-weight="bold" fill="#000" textLength="27.4" lengthAdjust="spacingAndGlyphs">X</text>
<text x="355.4" y="806.3" font-size="29.5" font-weight="bold" fill="#000" textLength="109.4" lengthAdjust="spacingAndGlyphs">= Terjual</text>

<!-- watermark -->
<rect x="35" y="840" width="126" height="12.2" fill="#f0190f"/>
<text x="36" y="850" font-size="11" fill="#f3e23a" textLength="124" lengthAdjust="spacingAndGlyphs">www.primaryproperty.co.id</text>
<line x1="35" y1="851.3" x2="161" y2="851.3" stroke="#f3c23a" stroke-width=".6"/>
</svg>
</body></html>
